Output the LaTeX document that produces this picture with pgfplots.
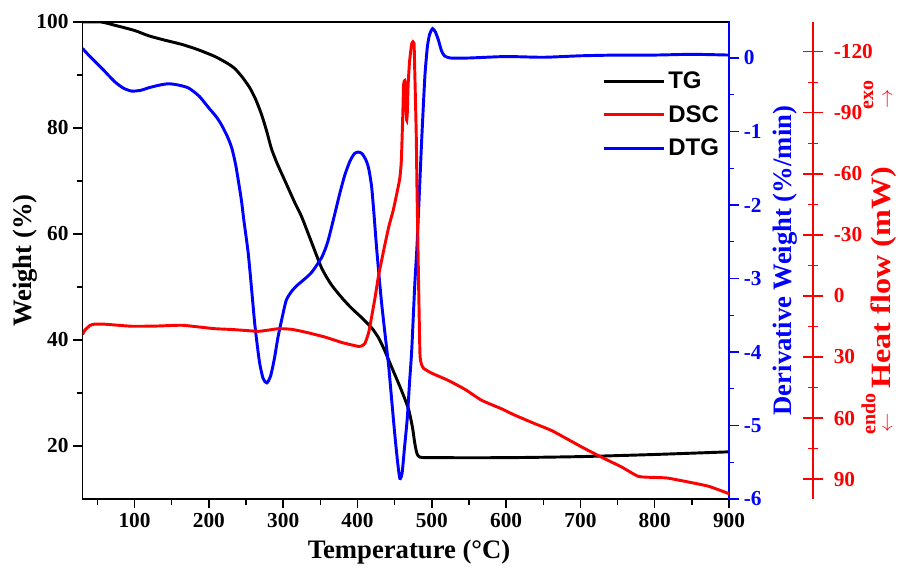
\documentclass[border=0pt]{standalone}
\usepackage{fontspec}
\setmainfont{Liberation Serif}
\setsansfont{Liberation Sans}
\usepackage{pgfplots}
\pgfplotsset{compat=1.18}

\newcommand\tickfont{\fontsize{16}{18}\selectfont\bfseries}
\newcommand\labfont{\fontsize{20}{24}\selectfont\bfseries}

\begin{document}
\begin{tikzpicture}
\useasboundingbox (-61.9pt,-51pt) rectangle (611.6pt,374.25pt);
\pgfplotsset{
  every axis/.append style={
    scale only axis, width=484.9pt, height=357.75pt,
    xmin=30, xmax=900,
    /pgf/number format/assume math mode=true,
    tick label style={font=\tickfont},
    label style={font=\labfont},
  },
}

% TG, weight in %
\begin{axis}[
    name=main,
    ymin=10, ymax=100,
    xtick={100,200,...,900}, minor xtick={50,150,...,850},
    ytick={20,40,...,100}, minor ytick={30,50,70,90},
    xtick pos=left, ytick pos=left, tick align=outside,
    axis line style={line width=1.2pt},
    tick style={black, line width=1.1pt},
    major tick length=7pt, minor tick length=4.5pt,
    xlabel={Temperature (°C)}, ylabel={Weight (\%)},
    xlabel style={at={(axis description cs:0.505,-0.111)}, anchor=center},
    ylabel style={at={(axis description cs:-0.089,0.5)}, anchor=center},
    legend style={at={(axis description cs:0.798,0.907)}, anchor=north west,
        draw=none, fill=none, font=\sffamily\bfseries\fontsize{18}{20}\selectfont,
        cells={anchor=west}, row sep=7pt},
    legend image code/.code={\draw[#1] (0pt,0pt) -- (45pt,0pt);},
]
\addplot[black, line width=2.2pt, smooth, tension=0.4] coordinates {
    (30,100) (55,100) (73,99.4) (100,98.4) (119,97.4) (140,96.6) (163,95.8)
    (185,94.8) (208,93.5) (225,92.2) (235,91.2) (245,89.6) (255,87.6) (263,85.4)
    (271,82.5) (278,79.3) (284,76.2) (291,73.6) (298,71.4) (307,68.6) (316,65.8)
    (325,63.2) (338,58.5) (352,53.5) (365,50.4) (380,47.8) (392,46) (405,44.3)
    (419,42.3) (428,40.5) (436,38.2) (445,35.2) (455,31.9) (462,29.5) (469,26.8)
    (474,23.5) (477,20.6) (480,18.6) (484,17.9) (500,17.8) (600,17.8) (700,18.0)
    (800,18.4) (900,18.9)
};
\addlegendentry{TG}
\addlegendimage{red, line width=2.2pt}
\addlegendentry{DSC}
\addlegendimage{blue, line width=2.2pt}
\addlegendentry{DTG}
\end{axis}

% DTG, derivative weight
\begin{axis}[
    ymin=-6, ymax=0.49,
    axis x line=none, axis y line*=right,
    ytick={-6,-5,...,0}, minor ytick={-5.5,-4.5,...,-0.5},
    tick align=outside,
    y axis line style={blue, line width=1.2pt},
    tick style={blue, line width=1.1pt},
    major tick length=7.5pt, minor tick length=3.8pt,
    yticklabel style={blue},
    ylabel={Derivative Weight (\%/min)},
    ylabel style={blue, at={(axis description cs:1.0866,0.5)}, anchor=center},
]
\addplot[blue, line width=2.2pt, smooth, tension=0.4] coordinates {
    (30,0.13) (40,0.02) (56,-0.14) (73,-0.32) (85,-0.41) (96,-0.45) (108,-0.44)
    (119,-0.405) (133,-0.37) (146,-0.35) (160,-0.37) (173,-0.41) (187,-0.52)
    (200,-0.68) (210,-0.8) (217,-0.91) (225,-1.07) (231,-1.23) (236,-1.45)
    (240,-1.69) (244,-1.95) (247,-2.2) (253,-2.66) (258,-3.2) (262,-3.64)
    (268,-4.13) (273,-4.36) (278,-4.42) (283,-4.33) (288,-4.1) (293,-3.8)
    (298,-3.56) (304,-3.3) (311,-3.18) (318,-3.1) (325,-3.04) (338,-2.92)
    (352,-2.71) (360,-2.5) (369,-2.14) (376,-1.85) (383,-1.59) (390,-1.4)
    (396,-1.3) (401,-1.28) (406,-1.3) (411,-1.38) (415,-1.5) (419,-1.75)
    (422,-2.1) (426,-2.62) (432,-3.29) (437,-3.75) (442,-4.2) (446,-4.65)
    (450,-5.1) (454,-5.5) (457,-5.72) (460,-5.65) (463,-5.33) (467,-4.9)
    (470,-4.42) (473,-3.97) (477,-3.1) (480,-2.57) (483,-1.9) (486,-1.2)
    (489,-0.57) (491,-0.2) (494,0.15) (497,0.32) (501,0.40) (505,0.35)
    (509,0.24) (513,0.1) (517,0.03) (525,0.0) (550,0.0) (600,0.02) (650,0.01)
    (700,0.03) (750,0.04) (800,0.04) (850,0.05) (900,0.04)
};
\end{axis}

% DSC, heat flow; wider axis so that its spine sits right of the DTG one
\begin{axis}[
    width=547.9pt, xmin=30, xmax=1013,
    ymin=-134.6, ymax=99.8, y dir=reverse,
    axis x line=none, axis y line*=right,
    ytick={-120,-90,...,90}, minor ytick={-105,-75,...,75},
    tick align=center,
    y axis line style={red, line width=1.2pt},
    tick style={red, line width=1.1pt},
    major tick length=15pt, minor tick length=7pt,
    yticklabel style={red, xshift=4.5pt},
]
\addplot[red, line width=2.2pt, smooth, tension=0.3] coordinates {
    (30,19) (33,16.9) (40,14.5) (46,13.9) (60,13.9) (96,14.9) (130,14.8)
    (163,14.4) (185,15.2) (208,16.1) (231,16.5) (250,17) (267,17.4) (280,16.8)
    (294,16.1) (311,16.4) (330,17.8) (356,20.2) (380,23) (401,24.8) (406,24.5)
    (410,23.3) (415,18) (419,10.3) (424,0) (428,-9.3) (435,-22) (442,-33.9)
    (448,-42) (453,-50.5) (457,-58) (459,-66.7) (461,-90) (462,-104)
    (464,-105.2) (466,-86.4) (467,-90) (468,-102.8) (470,-115) (473,-124.1)
    (476,-124.3) (477,-111) (479,-80) (480,-53.6) (482,-10) (484,28.2)
    (486,33.5) (489,35.6) (500,38) (522,41.5) (545,46) (567,51.3) (594,55.5)
    (611,58.5) (640,63) (662,66.3) (702,74.3) (728,79.2) (755,84) (778,88.7)
    (800,89.2) (817,89.5) (846,91.5) (873,93.6) (900,97.2)
};
\end{axis}

\node[red, rotate=90, font=\fontsize{21}{25}\selectfont\bfseries]
    at ([shift={(601pt,166pt)}]main.south west) {\scalebox{1.15}[1]{Heat flow (mW)}};
\node[red, rotate=90, font=\fontsize{15}{18}\selectfont\bfseries]
    at ([shift={(589.5pt,303pt)}]main.south west) {exo};
\node[red, rotate=90, font=\fontsize{15}{18}\selectfont]
    at ([shift={(604.5pt,300pt)}]main.south west) {$\rightarrow$};
\node[red, rotate=90, font=\fontsize{15}{18}\selectfont\bfseries]
    at ([shift={(589.5pt,64pt)}]main.south west) {endo};
\node[red, rotate=90, font=\fontsize{15}{18}\selectfont]
    at ([shift={(604.5pt,57pt)}]main.south west) {$\leftarrow$};
\end{tikzpicture}
\end{document}
